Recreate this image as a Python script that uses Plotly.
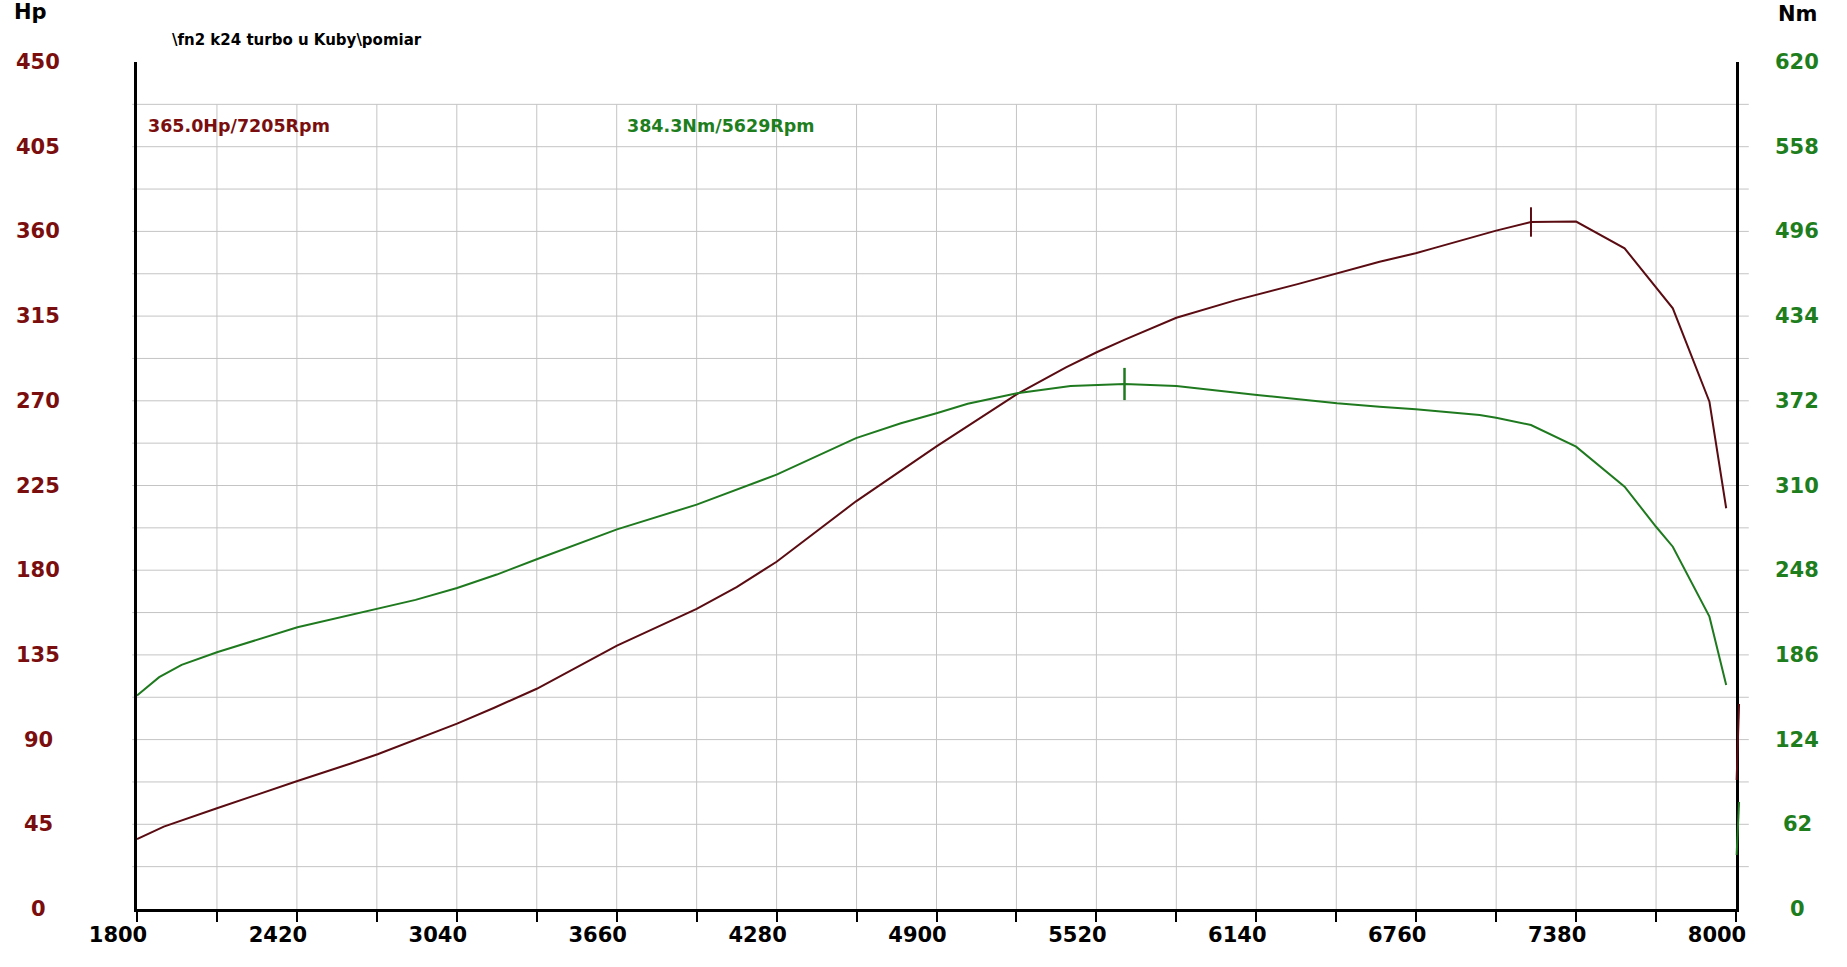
import plotly.graph_objects as go

# ---------------- data ----------------
rpm_power = [1800, 1904, 2110, 2318, 2422, 2629, 2733, 3041, 3183, 3350, 3661, 3970, 4125,
             4280, 4588, 4900, 5212, 5402, 5521, 5628, 5830, 6061, 6300, 6618, 6758,
             6825, 7006, 7070, 7205, 7380, 7568, 7755, 7897, 7962]
power_hp = [37.2, 43.8, 53.5, 63.3, 68.0, 77.3, 82.2, 98.5, 106.8, 117.0, 139.9, 159.4, 171.0,
            184.5, 216.6, 245.8, 273.5, 287.8, 295.8, 302.4, 314.1, 323.5, 332.0, 343.9, 348.4,
            351.0, 358.0, 360.4, 365.0, 365.2, 351.0, 319.1, 269.5, 212.9]

rpm_torque = [1800, 1886, 1973, 2110, 2422, 2612, 2733, 2880, 3041, 3195, 3350, 3661, 3970,
              4280, 4588, 4762, 4900, 5021, 5212, 5420, 5629, 5830, 6143, 6453, 6618,
              6758, 7006, 7070, 7205, 7380, 7568, 7690, 7755, 7897, 7962]
torque_nm = [156.3, 169.7, 178.7, 187.9, 206.2, 214.7, 219.6, 226.3, 235.0, 244.8, 256.0, 277.9, 296.0,
             318.0, 344.7, 355.6, 362.9, 369.8, 377.5, 382.9, 384.3, 382.9, 376.3, 370.2, 367.7,
             365.8, 361.6, 359.6, 354.3, 338.4, 309.1, 279.8, 265.2, 214.0, 164.0]

peak_power_rpm = [7205]
peak_power_hp = [365.0]
peak_torque_rpm = [5629]
peak_torque_nm = [384.3]

# short end-of-run strokes drawn at the right axis (bottom, top values)
end_power_span_hp = [68.5, 108.9]
end_torque_span_nm = [39.5, 78.3]

x_tick_values = [1800, 2110, 2420, 2730, 3040, 3350, 3660, 3970, 4280, 4590, 4900,
                 5210, 5520, 5830, 6140, 6450, 6760, 7070, 7380, 7690, 8000]
x_tick_labels = ["1800", "2420", "3040", "3660", "4280", "4900",
                 "5520", "6140", "6760", "7380", "8000"]
hp_ticks = [0, 45, 90, 135, 180, 225, 270, 315, 360, 405, 450]
nm_ticks = [0, 62, 124, 186, 248, 310, 372, 434, 496, 558, 620]
hp_grid = [0, 22.5, 45, 67.5, 90, 112.5, 135, 157.5, 180, 202.5, 225, 247.5,
           270, 292.5, 315, 337.5, 360, 382.5, 405, 427.5]

title_text = "\\fn2 k24 turbo u Kuby\\pomiar"
power_peak_text = "365.0Hp/7205Rpm"
torque_peak_text = "384.3Nm/5629Rpm"

# ---------------- style ----------------
RED_LINE = "#5a0c12"
RED_TEXT = "#7a0e0e"
GREEN_LINE = "#1f7a1f"
GREEN_TEXT = "#1e7e1e"
GRID = "#c4c4c4"
FONT = "DejaVu Sans"

fig = go.Figure()

fig.add_trace(go.Scatter(x=rpm_power, y=power_hp, mode="lines",
                         line=dict(color=RED_LINE, width=2), yaxis="y",
                         showlegend=False, hoverinfo="skip"))
fig.add_trace(go.Scatter(x=rpm_torque, y=torque_nm, mode="lines",
                         line=dict(color=GREEN_LINE, width=2), yaxis="y2",
                         showlegend=False, hoverinfo="skip"))

# peak markers
fig.add_trace(go.Scatter(x=peak_power_rpm, y=peak_power_hp, mode="markers", yaxis="y",
                         marker=dict(symbol="line-ns", size=21,
                                     line=dict(color=RED_LINE, width=2)),
                         showlegend=False, hoverinfo="skip"))
fig.add_trace(go.Scatter(x=peak_torque_rpm, y=peak_torque_nm, mode="markers", yaxis="y2",
                         marker=dict(symbol="line-ns", size=23,
                                     line=dict(color=GREEN_LINE, width=2.5)),
                         showlegend=False, hoverinfo="skip"))

# gridlines
shapes = []
for v in x_tick_values[1:-1]:
    shapes.append(dict(type="line", xref="x", yref="y", x0=v, x1=v, y0=0, y1=hp_grid[-1],
                       line=dict(color=GRID, width=1), layer="below"))
for h in hp_grid[1:]:
    shapes.append(dict(type="line", xref="paper", yref="y", x0=-0.003, x1=1.008, y0=h, y1=h,
                       line=dict(color=GRID, width=1), layer="below"))

# end-of-run strokes beside the right axis
shapes.append(dict(type="line", xref="paper", yref="y", x0=1.0004, x1=1.0019,
                   y0=end_power_span_hp[0], y1=end_power_span_hp[1],
                   line=dict(color=RED_LINE, width=2), layer="above"))
shapes.append(dict(type="line", xref="paper", yref="y2", x0=1.0004, x1=1.0019,
                   y0=end_torque_span_nm[0], y1=end_torque_span_nm[1],
                   line=dict(color=GREEN_LINE, width=2), layer="above"))

# tick text for x axis: labels on every second tick
ticktext = []
li = 0
for i, v in enumerate(x_tick_values):
    if i % 2 == 0:
        ticktext.append(x_tick_labels[li])
        li += 1
    else:
        ticktext.append("")

annotations = []
for t in hp_ticks:
    annotations.append(dict(text=str(t), xref="paper", yref="y", x=-0.0617, y=t,
                            xanchor="center", yanchor="middle", showarrow=False,
                            font=dict(family=FONT, size=21, color=RED_TEXT, weight="bold")))
for t in nm_ticks:
    annotations.append(dict(text=str(t), xref="paper", yref="y2", x=1.0384, y=t,
                            xanchor="center", yanchor="middle", showarrow=False,
                            font=dict(family=FONT, size=21, color=GREEN_TEXT, weight="bold")))

annotations += [
    dict(text="Hp", xref="paper", yref="paper", x=-0.0667, y=1.0590, xanchor="center",
         yanchor="middle", showarrow=False,
         font=dict(family=FONT, size=21, color="black", weight="bold")),
    dict(text="Nm", xref="paper", yref="paper", x=1.0384, y=1.0567, xanchor="center",
         yanchor="middle", showarrow=False,
         font=dict(family=FONT, size=21, color="black", weight="bold")),
    dict(text=title_text, xref="paper", yref="paper", x=0.0209, y=1.0260, xanchor="left",
         yanchor="middle", showarrow=False,
         font=dict(family=FONT, size=15, color="black", weight="bold")),
    dict(text=power_peak_text, xref="paper", yref="paper", x=0.0059, y=0.9244,
         xanchor="left", yanchor="middle", showarrow=False,
         font=dict(family=FONT, size=17.5, color=RED_TEXT, weight="bold")),
    dict(text=torque_peak_text, xref="paper", yref="paper", x=0.3054, y=0.9244,
         xanchor="left", yanchor="middle", showarrow=False,
         font=dict(family=FONT, size=17.5, color=GREEN_TEXT, weight="bold")),
]

fig.update_layout(
    width=1847, height=967,
    margin=dict(l=137, r=111, t=62, b=58),
    paper_bgcolor="white", plot_bgcolor="white",
    shapes=shapes, annotations=annotations,
    showlegend=False,
    xaxis=dict(range=[1800, 8000], showgrid=False, zeroline=False,
               showline=True, linecolor="black", linewidth=2.5,
               tickmode="array", tickvals=x_tick_values, ticktext=ticktext,
               ticks="outside", ticklen=10, tickwidth=1.5, tickcolor="black",
               ticklabelshift=-19, ticklabelstandoff=-5,
               tickfont=dict(family=FONT, size=21, color="black", weight="bold")),
    yaxis=dict(range=[0, 450], showgrid=False, zeroline=False,
               showline=True, linecolor="black", linewidth=2.5,
               showticklabels=False, ticks=""),
    yaxis2=dict(range=[0, 620], overlaying="y", side="right", showgrid=False,
                zeroline=False, showline=True, linecolor="black", linewidth=2.5,
                showticklabels=False, ticks=""),
)

fig.write_html("out.html", config={"displayModeBar": False},
               post_script="document.body.style.margin='0';")
